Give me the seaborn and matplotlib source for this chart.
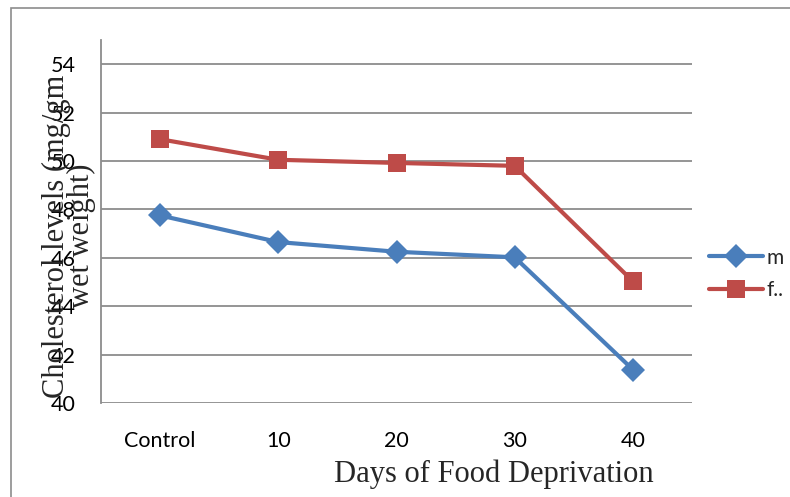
import numpy as np
import pandas as pd
import matplotlib
matplotlib.use("Agg")
import matplotlib.pyplot as plt
import seaborn as sns
from matplotlib.patches import Rectangle

days = ["Control", "10", "20", "30", "40"]
male = [47.75, 46.65, 46.25, 46.02, 41.38]
female = [50.9, 50.05, 49.92, 49.8, 45.03]
series_names = ["m", "f.."]

df = pd.DataFrame({
    "day": days * 2,
    "value": male + female,
    "series": [series_names[0]] * len(days) + [series_names[1]] * len(days),
})

sns.set_style("white")
plt.rcParams["font.family"] = ["Lato", "DejaVu Sans"]

fig = plt.figure(figsize=(7.9, 4.97), dpi=100)
ax = fig.add_axes([101 / 790, 1 - 403 / 497, 591 / 790, 363 / 497])

# outer chart frame
fig.patches.append(Rectangle((11 / 790, -0.1), 1.2, 1 - 8 / 497 + 0.1,
                             transform=fig.transFigure, fill=False,
                             edgecolor="#8c8c8c", linewidth=1.2))

palette = {"m": "#4A7EBB", "f..": "#BE4B48"}
sns.lineplot(data=df, x="day", y="value", hue="series", style="series",
             markers={"m": "D", "f..": "s"}, dashes=False, palette=palette,
             linewidth=3, markersize=12.5, markeredgewidth=0, sort=False, ax=ax)

ax.set_xlim(-0.5, 4.5)
ax.set_ylim(40, 55)
ax.set_yticks(np.arange(40, 55, 2))
ax.yaxis.grid(True, color="#8c8c8c", linewidth=1.3)
ax.set_axisbelow(True)
for s in ["top", "right", "bottom"]:
    ax.spines[s].set_visible(False)
ax.spines["left"].set_color("#8c8c8c")
ax.spines["left"].set_linewidth(1.3)
ax.tick_params(axis="both", length=0, labelsize=15.5, labelcolor="black")
ax.tick_params(axis="x", pad=20)
ax.tick_params(axis="y", pad=18)
ax.set_xlabel("")
ax.set_ylabel("")

fig.text(494 / 790, 1 - 474 / 497, "Days of Food Deprivation",
         family="Liberation Serif", fontsize=22, ha="center", va="center")
fig.text(69 / 790, 1 - 236 / 497, "Cholesterol levels (mg/gm\nwet weight)",
         family="Liberation Serif", fontsize=22, rotation=90, ha="center",
         va="center", multialignment="center", linespacing=0.85)

handles, labels = ax.get_legend_handles_labels()
ax.legend(handles, labels, loc="center left", bbox_to_anchor=(709 / 790, 1 - 274 / 497),
          bbox_transform=fig.transFigure, frameon=False, fontsize=15,
          handlelength=2.6, handletextpad=0.15, labelspacing=0.6, borderaxespad=0,
          borderpad=0)

fig.savefig("out.png", dpi=100, facecolor="white")
